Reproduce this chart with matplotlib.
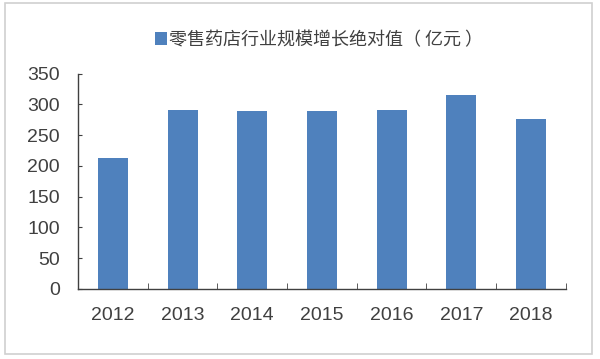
import matplotlib
matplotlib.use("Agg")
import matplotlib.pyplot as plt
from matplotlib.patches import Rectangle

years = ["2012", "2013", "2014", "2015", "2016", "2017", "2018"]
growth = [213, 291, 289, 289, 291, 315, 277]
series_name = "零售药店行业规模增长绝对值（ 亿元 ）"

plt.rcParams["font.family"] = ["Liberation Sans", "Noto Sans CJK SC", "DejaVu Sans"]

BAR = "#4F81BD"
TXT = "#404040"

fig = plt.figure(figsize=(6.0, 3.59), dpi=100)
fig.patch.set_facecolor("white")
ax = fig.add_axes([0.13, 0.195, 0.813, 0.6])

x = range(len(years))
ax.bar(x, growth, width=0.43, color=BAR, label=series_name, zorder=2)

ax.set_xlim(-0.5, len(years) - 0.5)
ax.set_ylim(0, 350)
ax.set_yticks(range(0, 351, 50))
ax.set_xticks(list(x))
ax.set_xticklabels(years)
ax.set_xticks([i + 0.5 for i in range(-1, len(years))], minor=True)

for s in ("top", "right"):
    ax.spines[s].set_visible(False)
for s in ("left", "bottom"):
    ax.spines[s].set_color(TXT)
    ax.spines[s].set_linewidth(1.0)

ax.tick_params(axis="y", direction="in", length=3, color=TXT, labelcolor=TXT,
               labelsize=14, pad=13)
ax.tick_params(axis="x", which="major", length=0, labelcolor=TXT, labelsize=14, pad=13)
ax.tick_params(axis="x", which="minor", direction="in", length=4.5, color=TXT)

fig.legend(handles=ax.patches[:1], labels=[series_name], loc="center",
           bbox_to_anchor=(0.532, 0.889), frameon=False, handlelength=0.65,
           handleheight=0.65, handletextpad=0.15,
           prop={"family": ["Noto Sans CJK SC", "DejaVu Sans"], "size": 13})
for t in fig.legends[0].get_texts():
    t.set_color(TXT)

fig.patches.append(Rectangle((0.008, 0.014), 0.979, 0.978, transform=fig.transFigure,
                             fill=False, edgecolor="#D0D0D0", linewidth=1.2))

fig.savefig("out.png", dpi=100, facecolor="white")
